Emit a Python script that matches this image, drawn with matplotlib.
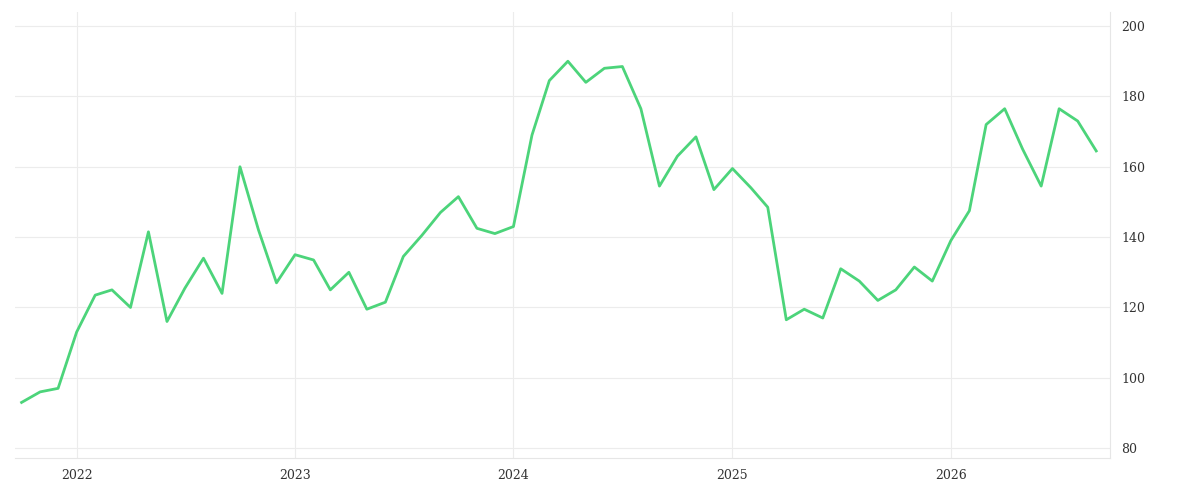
import matplotlib
matplotlib.use("Agg")
import matplotlib.pyplot as plt
import matplotlib.dates as mdates
import pandas as pd
import numpy as np

dates = pd.date_range("2021-10-01", periods=60, freq="MS")
values = [93, 96, 97, 113, 123.5, 125, 120, 141.5, 116, 125.5, 134, 124,
          160, 142, 127, 135, 133.5, 125, 130, 119.5, 121.5, 134.5, 140.5, 147,
          151.5, 142.5, 141, 143, 169, 184.5, 190, 184, 188, 188.5, 176.5, 154.5,
          163, 168.5, 153.5, 159.5, 154, 148.5, 116.5, 119.5, 117, 131, 127.5, 122,
          125, 131.5, 127.5, 139, 147.5, 172, 176.5, 165, 154.5, 176.5, 173, 164.5]
yticks = [80, 100, 120, 140, 160, 180, 200]

fig = plt.figure(figsize=(12, 5), dpi=100)
ax = fig.add_axes([0.0125, 0.084, 0.9125, 0.892])
ax.plot(dates, values, color="#4cd47a", lw=2.0)
ax.set_ylim(77.2, 204)
ax.set_xlim(pd.Timestamp("2021-09-20"), pd.Timestamp("2026-09-24"))
ax.yaxis.tick_right()
ax.set_yticks(yticks)
ax.xaxis.set_major_locator(mdates.YearLocator())
ax.xaxis.set_major_formatter(mdates.DateFormatter("%Y"))
ax.grid(True, color="#ececec", lw=0.8)
for s in ["top", "left"]:
    ax.spines[s].set_visible(False)
for s in ["right", "bottom"]:
    ax.spines[s].set_color("#e6e6e6")
ax.tick_params(length=0, labelsize=9, colors="#333333", pad=8)
for lab in ax.get_xticklabels() + ax.get_yticklabels():
    lab.set_fontfamily("DejaVu Serif")
fig.savefig("out.png")
